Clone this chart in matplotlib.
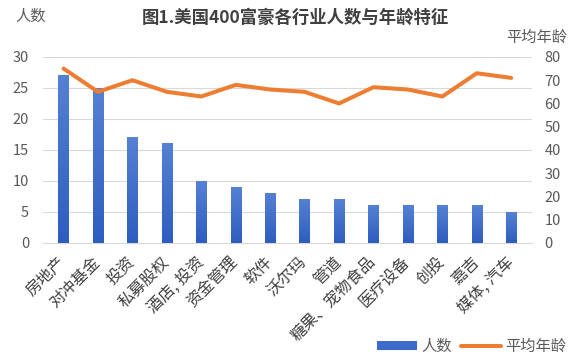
import matplotlib
matplotlib.use('Agg')
import matplotlib.pyplot as plt
import numpy as np
from matplotlib.colors import LinearSegmentedColormap

plt.rcParams['font.family'] = ['Noto Sans CJK SC', 'DejaVu Sans']

# 数据
industries = ['房地产', '对冲基金', '投资', '私募股权', '酒店, 投资', '资金管理', '软件',
              '沃尔玛', '管道', '糖果、宠物食品', '医疗设备', '创投', '嘉吉', '媒体, 汽车']
counts = [27, 25, 17, 16, 10, 9, 8, 7, 7, 6, 6, 6, 6, 5]
avg_age = [75, 65, 70, 65, 63, 68, 66, 65, 60, 67, 66, 63, 73, 71]

bar_color = '#3D6BCB'
line_color = '#ED7D31'
text_color = '#595959'
# 柱子渐变色：上浅下深
bar_cmap = LinearSegmentedColormap.from_list('bar', ['#2D5DC0', '#5581D3'])

fig = plt.figure(figsize=(5.8, 3.63), dpi=100)
ax = fig.add_axes([0.074, 0.331, 0.843, 0.512])
ax2 = ax.twinx()

x = np.arange(len(industries))
width = 0.3
bars = ax.bar(x, counts, width=width, color=bar_color, zorder=3, label='人数')
grad = np.linspace(0, 1, 100).reshape(-1, 1)
for b in bars:
    bx, bw, bh = b.get_x(), b.get_width(), b.get_height()
    ax.imshow(grad, cmap=bar_cmap, origin='lower', aspect='auto',
              extent=[bx, bx + bw, 0, bh], zorder=3.5)

ax2.plot(x, avg_age, color=line_color, linewidth=2.9, solid_capstyle='round',
         solid_joinstyle='round', zorder=4, label='平均年龄')

ax.set_xlim(-0.6, len(industries) - 0.4)
ax.set_ylim(0, 30)
ax.set_yticks(range(0, 31, 5))
ax2.set_ylim(0, 80)
ax2.set_yticks(range(0, 81, 10))

ax.yaxis.grid(True, color='#D9D9D9', linewidth=0.8, zorder=0)
ax.set_axisbelow(True)

for a in (ax, ax2):
    for s in a.spines.values():
        s.set_visible(False)
    a.tick_params(length=0, labelsize=10.5, colors=text_color)
ax.spines['bottom'].set_visible(True)
ax.spines['bottom'].set_color('#D9D9D9')

ax.set_xticks(x)
ax.set_xticklabels(industries, rotation=45, ha='right', va='center', rotation_mode='anchor')
ax.tick_params(axis='x', pad=12, labelsize=11.5, colors='#404040')
ax.tick_params(axis='y', pad=10)
ax2.tick_params(axis='y', pad=9)

fig.text(0.026, 0.955, '人数', fontsize=11, color=text_color, ha='left', va='center')
fig.text(0.978, 0.898, '平均年龄', fontsize=11, color=text_color, ha='right', va='center')
fig.text(0.51, 0.952, '图1.美国400富豪各行业人数与年龄特征', fontsize=12.5, fontweight='bold',
         color='#404040', ha='center', va='center')

h1, l1 = ax.get_legend_handles_labels()
h2, l2 = ax2.get_legend_handles_labels()
fig.legend(h1 + h2, l1 + l2, loc='center right', bbox_to_anchor=(1.0, 0.045), ncol=2,
           frameon=False, fontsize=11, handlelength=2.6, handleheight=0.5,
           columnspacing=0.6, handletextpad=0.3, labelcolor=text_color)

fig.savefig('out.png', dpi=100)
